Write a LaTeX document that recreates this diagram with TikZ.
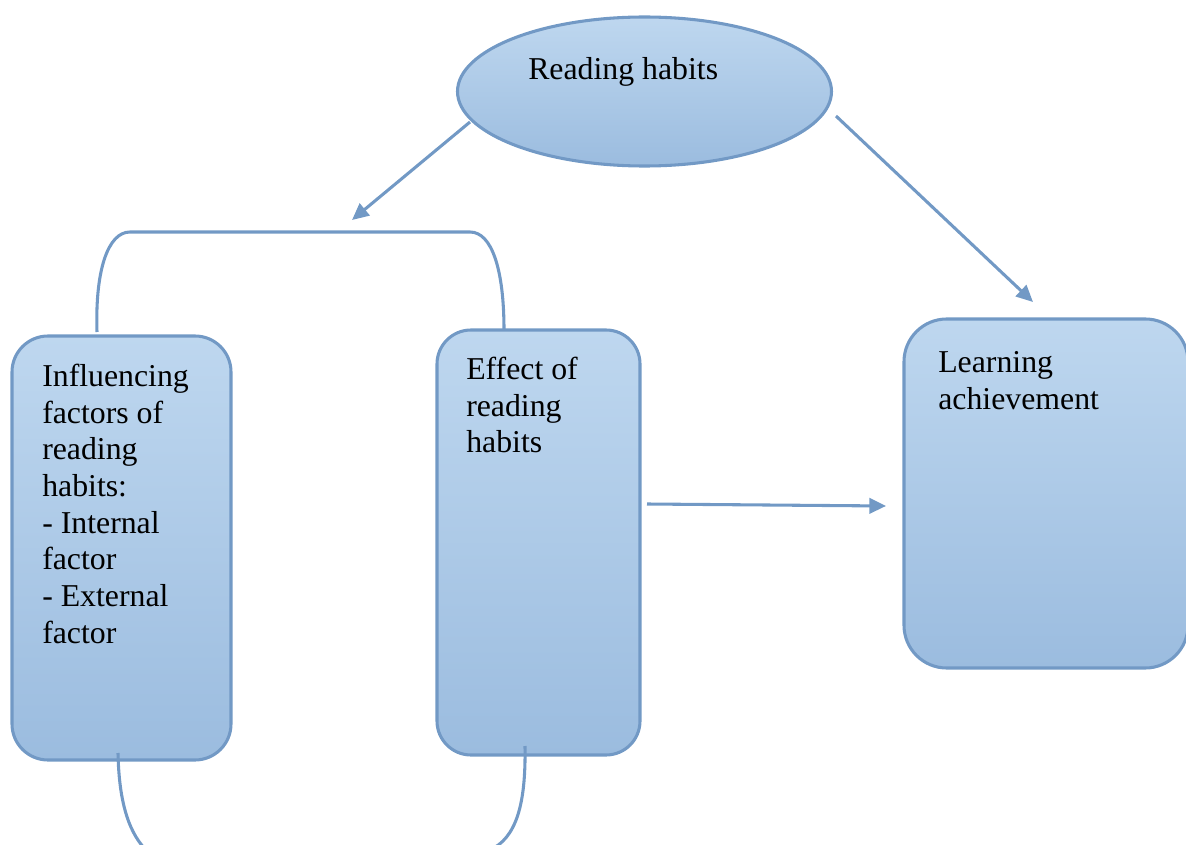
\documentclass[tikz,border=0pt]{standalone}
\usepackage{fontspec}
\setmainfont{Liberation Serif}
\usetikzlibrary{shapes.geometric,arrows.meta}
\definecolor{edge}{RGB}{114,153,197}
\definecolor{filltop}{RGB}{190,215,239}
\definecolor{fillbot}{RGB}{155,188,223}
\tikzset{
  x=0.75pt, y=-0.75pt,
  boxshape/.style={draw=edge, line width=2.3pt, top color=filltop, bottom color=fillbot, rectangle, inner sep=0pt},
  ellshape/.style={draw=edge, line width=2.3pt, top color=filltop, bottom color=fillbot, ellipse, inner sep=0pt},
  txt/.style={inner sep=0pt, align=left, font=\fontsize{23.85pt}{27.5pt}\selectfont},
  conn/.style={draw=edge, line width=2.3pt},
  arr/.style={conn, -{Triangle[length=12.5pt,width=11.5pt]}},
}
\begin{document}
\begin{tikzpicture}
\useasboundingbox (0,0) rectangle (1186,845);
\clip (0,0) rectangle (1186,845);
% nodes
\node[ellshape, minimum width=280.5pt, minimum height=111.75pt] (ell) at (644.5,91.5) {};
\node[txt, anchor=base west] (elltxt) at (528,80) {Reading habits};
\node[boxshape, rounded corners=27pt, minimum width=164.25pt, minimum height=318pt] (lbox) at (121.5,548) {};
\node[boxshape, rounded corners=25.5pt, minimum width=152.25pt, minimum height=318.75pt] (mbox) at (538.5,542.5) {};
\node[boxshape, rounded corners=32pt, minimum width=213pt, minimum height=261.75pt] (rbox) at (1046,493.5) {};
\node[txt, anchor=north west] (ltxt) at (42,364) {Influencing\\factors of\\reading\\habits:\\- Internal\\factor\\- External\\factor};
\node[txt, anchor=north west] (mtxt) at (466,357) {Effect of\\reading\\habits};
\node[txt, anchor=north west] (rtxt) at (938,351.5) {Learning\\achievement};
% coordinates
\coordinate (a1s) at (470,122);
\coordinate (a1e) at (352,220);
\coordinate (a2s) at (836,116);
\coordinate (a2e) at (1033,302);
\coordinate (a3s) at (647,504);
\coordinate (a3e) at (886,506);
\coordinate (bl) at (97,332);
\coordinate (br) at (504,330);
\coordinate (bbl) at (118,753);
\coordinate (bbr) at (525,746);
% brackets
\draw[conn] (bl) .. controls (95,270) and (108,232) .. (130,232) -- (470,232) .. controls (492,232) and (504,270) .. (br);
\draw[conn] (bbl) .. controls (119,805) and (130,835) .. (148,852);
\draw[conn] (bbr) .. controls (526,805) and (516,838) .. (490,850);
% arrows
\draw[arr] (a1s) -- (a1e);
\draw[arr] (a2s) -- (a2e);
\draw[arr] (a3s) -- (a3e);
\end{tikzpicture}
\end{document}
